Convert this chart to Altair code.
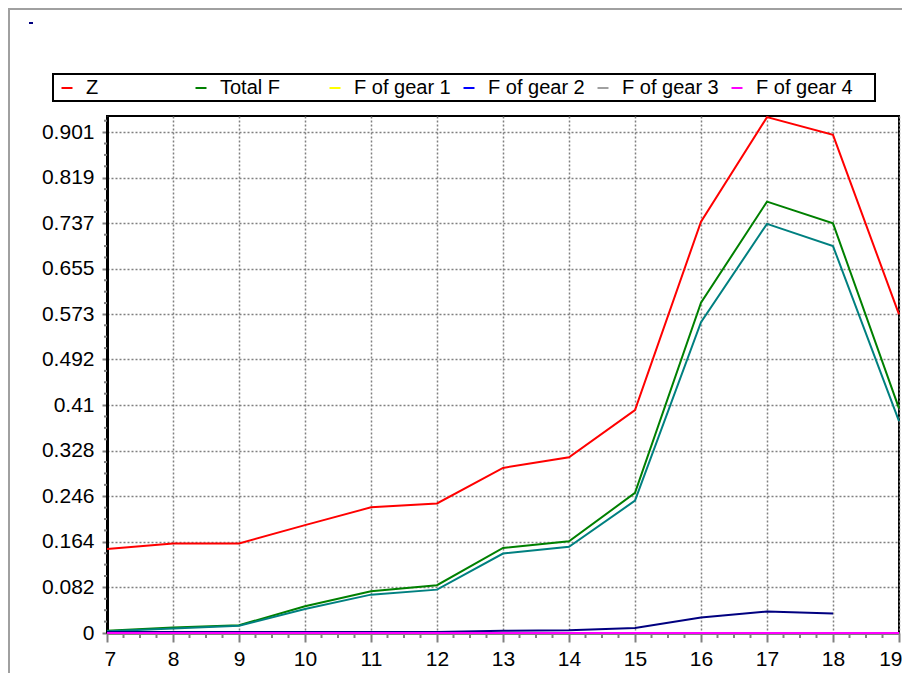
import altair as alt
import pandas as pd

ages = [7, 8, 9, 10, 11, 12, 13, 14, 15, 16, 17, 18, 19]
z_vals = [0.151, 0.161, 0.161, 0.194, 0.226, 0.233, 0.297, 0.316, 0.401, 0.740, 0.928, 0.896, 0.573]
total_f = [0.004, 0.010, 0.014, 0.048, 0.075, 0.086, 0.153, 0.165, 0.252, 0.594, 0.776, 0.737, 0.404]
f_gear1 = [0.003, 0.008, 0.013, 0.043, 0.069, 0.078, 0.143, 0.155, 0.238, 0.559, 0.736, 0.696, 0.381]
f_gear2 = [0.002, 0.002, 0.002, 0.002, 0.002, 0.002, 0.004, 0.005, 0.009, 0.028, 0.0385, 0.035, None]
f_gear3 = [0.0, 0.0, 0.0, 0.0, 0.0, 0.0, 0.0, 0.0, 0.0, 0.0, 0.0, 0.0, 0.0]
f_gear4 = [0.0, 0.0, 0.0, 0.0, 0.0, 0.0, 0.0, 0.0, 0.0, 0.0, 0.0, 0.0, 0.0]

series_names = ["Z", "Total F", "F of gear 1", "F of gear 2", "F of gear 3", "F of gear 4"]
line_colors = ["#ff0000", "#008000", "#008080", "#000080", "#808080", "#ff00ff"]
legend_colors = ["#ff0000", "#008000", "#ffff00", "#0000ff", "#a0a0a0", "#ff00ff"]
y_ticks = [0, 0.082, 0.164, 0.246, 0.328, 0.41, 0.492, 0.573, 0.655, 0.737, 0.819, 0.901]

rows = []
for name, vals in zip(series_names, [z_vals, total_f, f_gear1, f_gear2, f_gear3, f_gear4]):
    for a, v in zip(ages, vals):
        if v is not None:
            rows.append({"age": a, "value": v, "series": name})
df = pd.DataFrame(rows)

x_minor = [a + q for a in ages[:-1] for q in (0.25, 0.5, 0.75)]
ystep = y_ticks[1]
y_minor = [t + ystep * q for t in y_ticks for q in (0.25, 0.5, 0.75) if t + ystep * q < 0.93]

W, H = 792, 517
FONT = "Liberation Sans"

xscale = alt.Scale(domain=[7, 19], nice=False, zero=False)
yscale = alt.Scale(domain=[0, 0.93], nice=False)

xaxis = alt.Axis(values=ages, tickSize=9, tickColor="#808080", tickWidth=2,
                 domainColor="#808080", domainWidth=3, grid=True, gridColor="#808080",
                 gridDash=[2, 2], gridWidth=1.5, labelFontSize=21, labelFont=FONT,
                 labelColor="black", labelPadding=6, title=None, labelFlush=True,
                 labelFlushOffset=3, labelExpr="'' + datum.value")
yaxis = alt.Axis(values=y_ticks, labelExpr="'' + datum.value", tickSize=5,
                 tickColor="#808080", tickWidth=2,
                 domainColor="black", domainWidth=3, grid=True, gridColor="#808080",
                 gridDash=[2, 2], gridWidth=1.5, labelFontSize=21, labelFont=FONT,
                 labelColor="black", labelPadding=8, title=None)

frame = alt.Chart(alt.Data(values=[{"k": 1}])).mark_rect(
    filled=False, stroke="#a0a0a0", strokeWidth=2
).encode(x=alt.value(-98), x2=alt.value(W + 40), y=alt.value(-107), y2=alt.value(H + 80))

legend_box = alt.Chart(alt.Data(values=[{"k": 1}])).mark_rect(
    fill="white", stroke="black", strokeWidth=2
).encode(x=alt.value(-54), x2=alt.value(768), y=alt.value(-42), y2=alt.value(-15))

dot = alt.Chart(alt.Data(values=[{"k": 1}])).mark_rect(color="#000080").encode(
    x=alt.value(-78), x2=alt.value(-74), y=alt.value(-94), y2=alt.value(-92))

xminor_layer = alt.Chart(pd.DataFrame({"v": x_minor})).mark_rule(
    color="#808080", strokeWidth=2
).encode(x=alt.X("v:Q", scale=xscale, axis=xaxis), y=alt.value(H), y2=alt.value(H + 5))

yminor_layer = alt.Chart(pd.DataFrame({"w": y_minor})).mark_rule(
    color="#808080", strokeWidth=2
).encode(y=alt.Y("w:Q", scale=yscale, axis=yaxis), x=alt.value(-3), x2=alt.value(0))

legend_layer = alt.Chart(df).mark_point(filled=True, size=0).encode(
    x=alt.X("age:Q", scale=xscale, axis=xaxis),
    y=alt.Y("value:Q", scale=yscale, axis=yaxis),
    fill=alt.Fill("series:N", scale=alt.Scale(domain=series_names, range=legend_colors),
                  legend=alt.Legend(orient="none", legendX=-54, legendY=-42,
                                    direction="horizontal", columns=6, gridAlign="all",
                                    columnPadding=8, padding=4, title=None,
                                    labelFont=FONT, labelFontSize=20, labelColor="black",
                                    labelOffset=9, symbolType="M-1,-0.18H1V0.18H-1Z",
                                    symbolSize=121, symbolStrokeWidth=0, symbolOpacity=1)),
)

lines = alt.Chart(df).mark_line(strokeWidth=2).encode(
    x=alt.X("age:Q", scale=xscale, axis=xaxis),
    y=alt.Y("value:Q", scale=yscale, axis=yaxis),
    color=alt.Color("series:N", scale=alt.Scale(domain=series_names, range=line_colors),
                    legend=None),
    order=alt.Order("age:Q"),
)

chart = alt.layer(frame, legend_box, dot, xminor_layer, yminor_layer, legend_layer, lines).properties(
    width=W, height=H, background="white",
    autosize=alt.AutoSizeParams(type="none"),
    padding={"left": 99, "top": 108, "right": 3, "bottom": 40},
).configure_view(stroke="black", strokeWidth=2)

chart.save("out.html", embed_options={"renderer": "svg", "actions": False})
